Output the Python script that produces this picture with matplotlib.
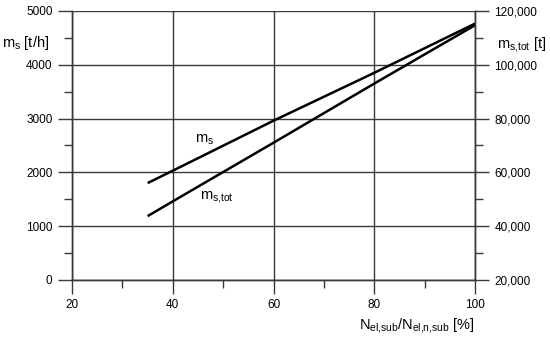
import matplotlib.pyplot as plt
from matplotlib.ticker import FuncFormatter, MultipleLocator

plt.rcParams["font.family"] = ["Liberation Sans", "DejaVu Sans"]
plt.rcParams["mathtext.fontset"] = "custom"
plt.rcParams["mathtext.rm"] = "Liberation Sans"
plt.rcParams["mathtext.it"] = "Liberation Sans"

# load fraction [%]
load = [35, 40, 60, 80, 100]
# steam mass flow [t/h] (left axis)
m_s = [1800, 2030, 2960, 3850, 4765]
# total steam mass [t] (right axis)
m_s_tot = [43700, 49200, 71000, 93000, 114700]

x_ticks = [20, 40, 60, 80, 100]
grid_col = "#3a3a3a"

fig = plt.figure(figsize=(5.5, 3.38), dpi=100)
ax = fig.add_axes([0.131, 0.172, 0.7326, 0.7955])
ax2 = ax.twinx()

ax.set_xlim(20, 100)
ax.set_ylim(0, 5000)
ax2.set_ylim(20000, 120000)

ax.plot(load, m_s, color="black", lw=1.8, solid_capstyle="butt")
ax2.plot(load, m_s_tot, color="black", lw=1.8, solid_capstyle="butt")

ax.set_xticks(x_ticks)
ax.xaxis.set_minor_locator(MultipleLocator(10))
ax.yaxis.set_major_locator(MultipleLocator(1000))
ax.yaxis.set_minor_locator(MultipleLocator(500))
ax2.yaxis.set_major_locator(MultipleLocator(20000))
ax2.yaxis.set_minor_locator(MultipleLocator(10000))
ax2.yaxis.set_major_formatter(FuncFormatter(lambda v, p: f"{int(v):,}"))

ax.grid(True, which="major", color=grid_col, lw=1.0)
ax.set_axisbelow(True)

for a in (ax, ax2):
    a.spines["top"].set_visible(False)
    for s in ("left", "right", "bottom"):
        a.spines[s].set_color(grid_col)
        a.spines[s].set_linewidth(1.0)
    a.tick_params(which="major", direction="out", length=10, width=1.0,
                  color=grid_col, labelsize=8.5, pad=4)
    a.tick_params(which="minor", direction="out", length=5.5, width=1.0,
                  color=grid_col)

ax.text(-0.115, 0.88, r"$\mathrm{m_s}$ [t/h]", transform=ax.transAxes,
        fontsize=10.5, ha="center", va="center")
ax2.text(1.115, 0.875, r"$\mathrm{m_{s{,}tot}}$ [t]", transform=ax.transAxes,
         fontsize=10.5, ha="center", va="center")
ax.text(1.0, -0.17, r"$\mathrm{N_{el{,}sub}/N_{el{,}n{,}sub}}$ [%]",
        transform=ax.transAxes, fontsize=10.5, ha="right", va="center")

ax.text(44.5, 2600, r"$\mathrm{m_s}$", fontsize=10.5, ha="left", va="center")
ax.text(45.5, 1550, r"$\mathrm{m_{s{,}tot}}$", fontsize=10.5, ha="left",
        va="center")

fig.savefig("out.png", dpi=100)
